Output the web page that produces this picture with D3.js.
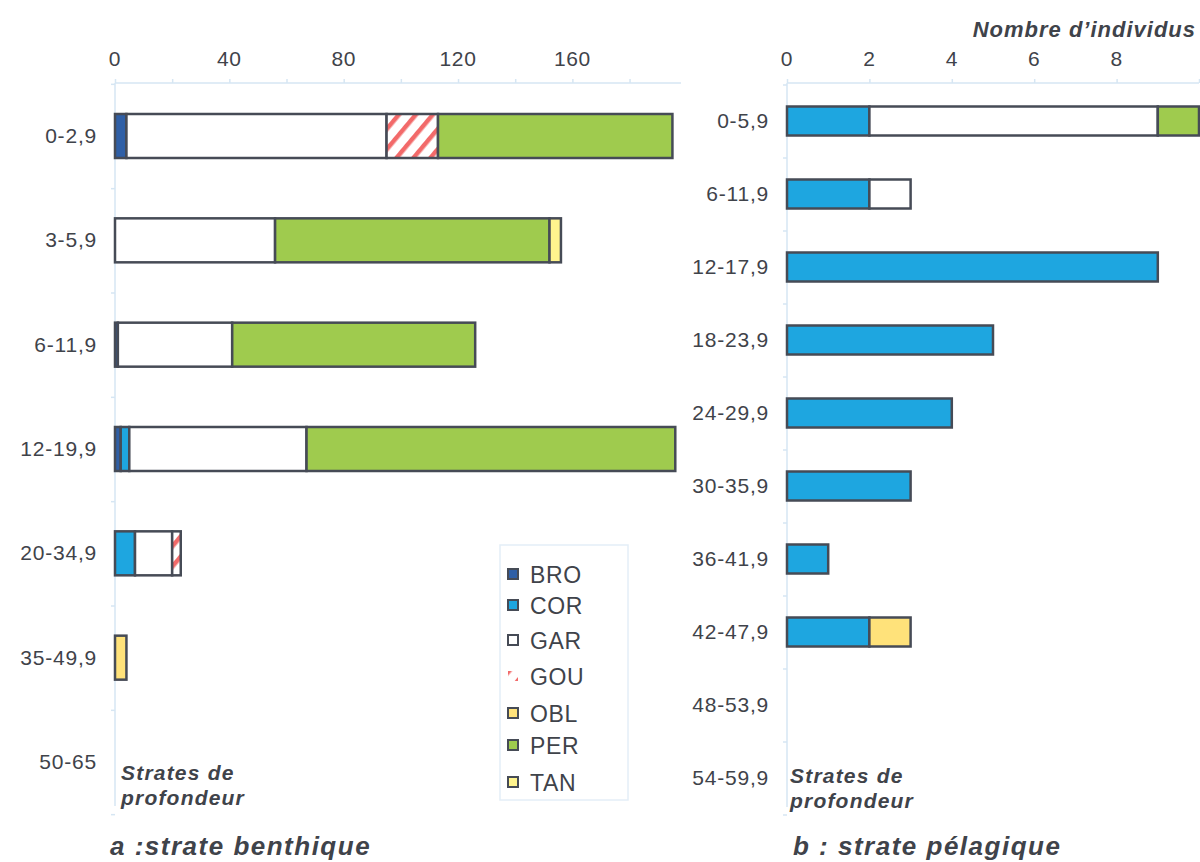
<!DOCTYPE html>
<html>
<head>
<meta charset="utf-8">
<script src="https://cdn.jsdelivr.net/npm/d3@7/dist/d3.min.js"></script>
<style>
  body { margin: 0; background: #fff; }
  text { font-family: "Liberation Sans", Arial, sans-serif; fill: #3f434a; }
</style>
</head>
<body>
<script>
	// species, in stacking order
	var species = ["BRO", "COR", "GAR", "GOU", "OBL", "PER", "TAN"];
	var colors  = ["#2f5fa6", "#1ea6e0", "#ffffff", "url(#hatch)", "#ffe27a", "#9fcb4e", "#fff48e"];

	// a : strate benthique
	var stratesA = ["0-2,9", "3-5,9", "6-11,9", "12-19,9", "20-34,9", "35-49,9", "50-65"];
	var BRO_a = [4, 0, 1, 2, 0, 0, 0];
	var COR_a = [0, 0, 0, 3, 7, 0, 0];
	var GAR_a = [91, 56, 40, 62, 13, 0, 0];
	var GOU_a = [18, 0, 0, 0, 3, 0, 0];
	var OBL_a = [0, 0, 0, 0, 0, 4, 0];
	var PER_a = [82, 96, 85, 129, 0, 0, 0];
	var TAN_a = [0, 4, 0, 0, 0, 0, 0];
	var ticksA = [0, 40, 80, 120, 160];

	// b : strate pelagique
	var stratesB = ["0-5,9", "6-11,9", "12-17,9", "18-23,9", "24-29,9", "30-35,9", "36-41,9", "42-47,9", "48-53,9", "54-59,9"];
	var BRO_b = [0, 0, 0, 0, 0, 0, 0, 0, 0, 0];
	var COR_b = [2, 2, 9, 5, 4, 3, 1, 2, 0, 0];
	var GAR_b = [7, 1, 0, 0, 0, 0, 0, 0, 0, 0];
	var GOU_b = [0, 0, 0, 0, 0, 0, 0, 0, 0, 0];
	var OBL_b = [0, 0, 0, 0, 0, 0, 0, 1, 0, 0];
	var PER_b = [1, 0, 0, 0, 0, 0, 0, 0, 0, 0];
	var TAN_b = [0, 0, 0, 0, 0, 0, 0, 0, 0, 0];
	var ticksB = [0, 2, 4, 6, 8];

	var width = 1200, height = 862;
	var svg = d3.select("body").append("svg")
		.attr("width", width)
		.attr("height", height);

	var defs = svg.append("defs");
	var pat = defs.append("pattern")
		.attr("id", "hatch")
		.attr("patternUnits", "userSpaceOnUse")
		.attr("width", 13).attr("height", 13)
		.attr("patternTransform", "rotate(40)");
	pat.append("rect").attr("width", 13).attr("height", 13).attr("fill", "#fff");
	pat.append("rect").attr("x", 0).attr("width", 4.5).attr("height", 13).attr("fill", "#f26a6a");

	function toRows(cats, cols) {
		return cats.map(function(c, i) {
			var r = { strate: c };
			species.forEach(function(s, j) { r[s] = cols[j][i]; });
			return r;
		});
	}

	function panel(opt) {
		var g = svg.append("g");
		var x = d3.scaleLinear().domain(opt.domain).range(opt.xr);
		var y = d3.scalePoint().domain(opt.cats).range(opt.yr);

		// axis
		var axis = d3.axisTop(x).tickValues(opt.minor).tickSize(4).tickFormat("");
		var ag = g.append("g").attr("transform", "translate(0," + opt.axisY + ")").call(axis);
		ag.selectAll("path,line").attr("stroke", "#d6e6f3").attr("stroke-width", 1.5);
		ag.select(".domain").attr("d", "M" + opt.xr[0] + ",0H" + opt.xr[1]);

		g.selectAll(".tl").data(opt.ticks).enter().append("text")
			.attr("x", function(d) { return x(d); })
			.attr("y", opt.axisY - 17)
			.attr("text-anchor", "middle")
			.attr("font-size", 21)
			.attr("letter-spacing", 0.6)
			.text(function(d) { return d; });

		// vertical axis line
		var step = y.step();
		var yAxis = d3.axisLeft(d3.scaleLinear().domain([0, opt.cats.length]).range([opt.yr[0] - step / 2, opt.yr[1] + step / 2]))
			.ticks(opt.cats.length).tickSize(4).tickFormat("");
		var yg = g.append("g").attr("transform", "translate(" + opt.xr[0] + ",0)").call(yAxis);
		yg.selectAll("path,line").attr("stroke", "#d6e6f3").attr("stroke-width", 1.5);
		yg.select(".domain").attr("d", "M0," + opt.axisY + "V" + (opt.yr[1] + opt.bh));

		// category labels
		g.selectAll(".cl").data(opt.cats).enter().append("text")
			.attr("x", opt.xr[0] - 18)
			.attr("y", function(d) { return y(d) + 7; })
			.attr("text-anchor", "end")
			.attr("font-size", 21)
			.attr("letter-spacing", 0.8)
			.text(function(d) { return d; });

		var stack = d3.stack().keys(species)(opt.rows);
		stack.forEach(function(layer, j) {
			g.selectAll(".b" + j).data(layer.filter(function(d) { return d[1] > d[0]; })).enter().append("rect")
				.attr("x", function(d) { return x(d[0]); })
				.attr("width", function(d) { return x(d[1]) - x(d[0]); })
				.attr("y", function(d) { return y(d.data.strate) - opt.bh / 2; })
				.attr("height", opt.bh)
				.attr("fill", colors[j])
				.attr("stroke", "#464b56")
				.attr("stroke-width", 2.5);
		});

		// axis captions
		var t = g.append("text")
			.attr("x", opt.capX)
			.attr("y", opt.capY)
			.attr("font-size", 21)
			.attr("letter-spacing", 1.2)
			.attr("font-weight", "bold")
			.attr("font-style", "italic");
		t.append("tspan").attr("x", opt.capX).text("Strates de");
		t.append("tspan").attr("x", opt.capX).attr("dy", 25).text("profondeur");

		g.append("text")
			.attr("x", opt.titleX)
			.attr("y", 855)
			.attr("font-size", 26)
			.attr("letter-spacing", 1.5)
			.attr("font-weight", "bold")
			.attr("font-style", "italic")
			.text(opt.title);
	}

	panel({
		cats: stratesA,
		rows: toRows(stratesA, [BRO_a, COR_a, GAR_a, GOU_a, OBL_a, PER_a, TAN_a]),
		domain: [0, 198], xr: [115, 681],
		yr: [136, 762], bh: 44,
		axisY: 83,
		ticks: ticksA, minor: d3.range(0, 200, 20),
		capX: 121, capY: 780,
		title: "a :strate benthique", titleX: 110
	});

	panel({
		cats: stratesB,
		rows: toRows(stratesB, [BRO_b, COR_b, GAR_b, GOU_b, OBL_b, PER_b, TAN_b]),
		domain: [0, 10], xr: [787, 1199],
		yr: [121, 778], bh: 29,
		axisY: 83,
		ticks: ticksB, minor: d3.range(0, 11, 2),
		capX: 790, capY: 783,
		title: "b : strate pélagique", titleX: 793
	});

	svg.append("text")
		.attr("x", 1196)
		.attr("y", 37)
		.attr("text-anchor", "end")
		.attr("font-size", 22)
		.attr("letter-spacing", 1)
		.attr("font-weight", "bold")
		.attr("font-style", "italic")
		.text("Nombre d\u2019individus");

	// legend
	var leg = svg.append("g");
	leg.append("rect")
		.attr("x", 500).attr("y", 545).attr("width", 128).attr("height", 255)
		.attr("fill", "none").attr("stroke", "#e4eef7").attr("stroke-width", 1.5);
	var legY = [574, 605, 640, 676, 713, 745, 782];
	species.forEach(function(s, j) {
		leg.append("rect")
			.attr("x", 508).attr("y", legY[j] - 5).attr("width", 10).attr("height", 10)
			.attr("fill", colors[j])
			.attr("stroke", j == 3 ? "none" : "#464b56")
			.attr("stroke-width", 2);
		leg.append("text")
			.attr("x", 530).attr("y", legY[j] + 9)
			.attr("font-size", 23)
			.attr("letter-spacing", 0.6)
			.text(s);
	});
</script>
</body>
</html>
